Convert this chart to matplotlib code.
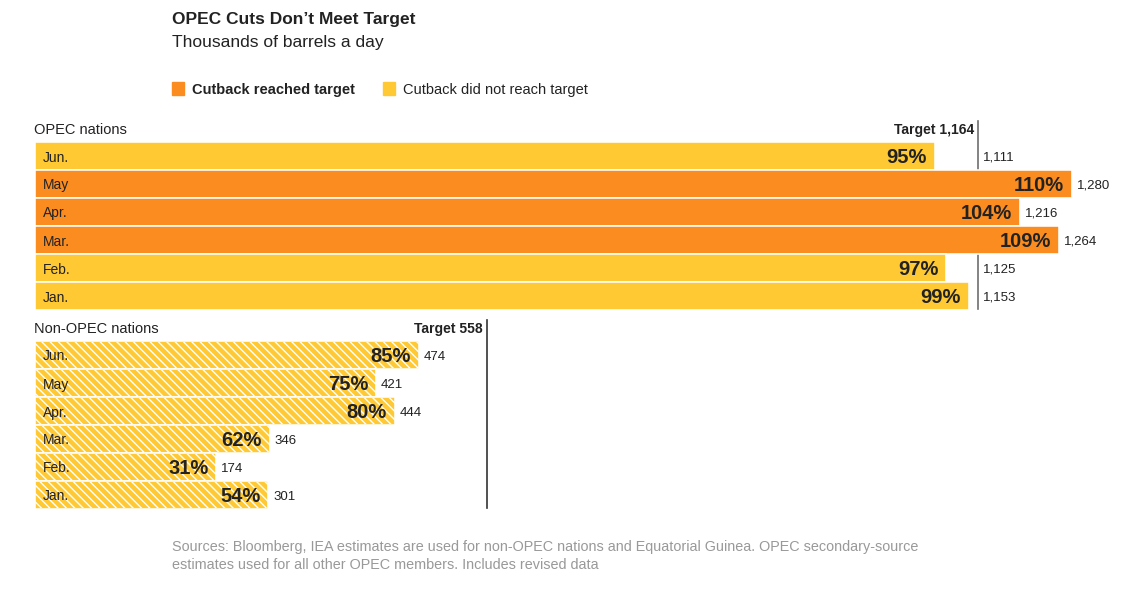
import matplotlib
matplotlib.use("Agg")
import matplotlib.pyplot as plt

plt.rcParams['font.family'] = ['Liberation Sans', 'DejaVu Sans']
plt.rcParams['hatch.linewidth'] = 1.0

# ---------------- data ----------------
months = ["Jun.", "May", "Apr.", "Mar.", "Feb.", "Jan."]
opec_values = [1111, 1280, 1216, 1264, 1125, 1153]
opec_pct = [95, 110, 104, 109, 97, 99]
opec_target = 1164
nonopec_values = [474, 421, 444, 346, 174, 301]          # labels
nonopec_bar = [474, 421, 444, 290, 224, 288]             # bar lengths as drawn
nonopec_pct = [85, 75, 80, 62, 31, 54]
nonopec_target = 558

ORANGE = "#FB8C20"
YELLOW = "#FFC933"
DARK = "#222222"

W, H = 1129, 610
fig = plt.figure(figsize=(W / 100, H / 100), dpi=100)
ax = fig.add_axes([0, 0, 1, 1])
x0_px, scale = 35, 0.81
ax.set_xlim(-x0_px / scale, (W - x0_px) / scale)
ax.set_ylim(H, 0)
ax.axis("off")

def fx(px):
    return px / W

def fy(py):
    return 1 - py / H

# title / subtitle
fig.text(fx(172), fy(24), "OPEC Cuts Don\u2019t Meet Target", fontsize=12.5,
         fontweight="bold", color=DARK, va="baseline", ha="left")
fig.text(fx(172), fy(47), "Thousands of barrels a day", fontsize=12.5,
         color=DARK, va="baseline", ha="left")

# legend
fig.patches.append(plt.Rectangle((fx(172), fy(95)), 12 / W, 13 / H,
                                 transform=fig.transFigure, color=ORANGE))
fig.text(fx(192), fy(94), "Cutback reached target", fontsize=10.5,
         fontweight="bold", color=DARK, va="baseline")
fig.patches.append(plt.Rectangle((fx(383), fy(95)), 12 / W, 13 / H,
                                 transform=fig.transFigure, color=YELLOW))
fig.text(fx(403), fy(94), "Cutback did not reach target", fontsize=10.5,
         color=DARK, va="baseline")

pitch = 28
edge_lw = 1.6 * 72 / 100

def panel(title, top, values, bar_len, pcts, target, hatched, line_col):
    centres = [top + 13 + i * pitch for i in range(len(months))]
    ax.text(-1 / scale, top - 9, title, fontsize=10.5, color=DARK,
            va="baseline", ha="left")
    ax.annotate(f"Target {target:,}", (target, top - 9), xytext=(-4, 0),
                textcoords="offset pixels", fontsize=10, fontweight="bold",
                color=DARK, va="baseline", ha="right")
    ax.plot([target, target], [top - 22, centres[-1] + 13], color=line_col,
            lw=1.2, zorder=1)
    for i, (c, v, bl, p) in enumerate(zip(centres, values, bar_len, pcts)):
        reached = p >= 100
        col = ORANGE if reached else YELLOW
        ax.barh(c, bl, left=0, height=pitch, color=col, edgecolor="white",
                linewidth=edge_lw, zorder=2)
        if hatched:
            ax.barh(c, bl, left=0, height=pitch - 1.6, facecolor="none",
                    edgecolor="white", hatch="\\\\\\\\", linewidth=0, zorder=2.5)
        ax.text(8 / scale, c + 5.5, months[i], fontsize=10,
                color=DARK, va="baseline", ha="left", zorder=3)
        ax.annotate(f"{p}%", (bl, c), xytext=(-8, -7), textcoords="offset pixels",
                    fontsize=14.5, fontweight="bold", color=DARK,
                    va="baseline", ha="right", zorder=3)
        anchor = bl if (hatched or bl > target) else target
        ax.annotate(f"{v:,}", (anchor, c), xytext=(5, -5),
                    textcoords="offset pixels", fontsize=9.5, color=DARK,
                    va="baseline", ha="left", zorder=3)

panel("OPEC nations", 143, opec_values, opec_values, opec_pct, opec_target,
      False, "#6e6e6e")
panel("Non-OPEC nations", 342, nonopec_values, nonopec_bar, nonopec_pct,
      nonopec_target, True, "#333333")

fig.text(fx(172), fy(551), "Sources: Bloomberg, IEA estimates are used for non-OPEC "
         "nations and Equatorial Guinea. OPEC secondary-source", fontsize=10.4,
         color="#999999", va="baseline")
fig.text(fx(172), fy(569), "estimates used for all other OPEC members. Includes "
         "revised data", fontsize=10.4, color="#999999", va="baseline")

fig.savefig("out.png", dpi=100, facecolor="white")
